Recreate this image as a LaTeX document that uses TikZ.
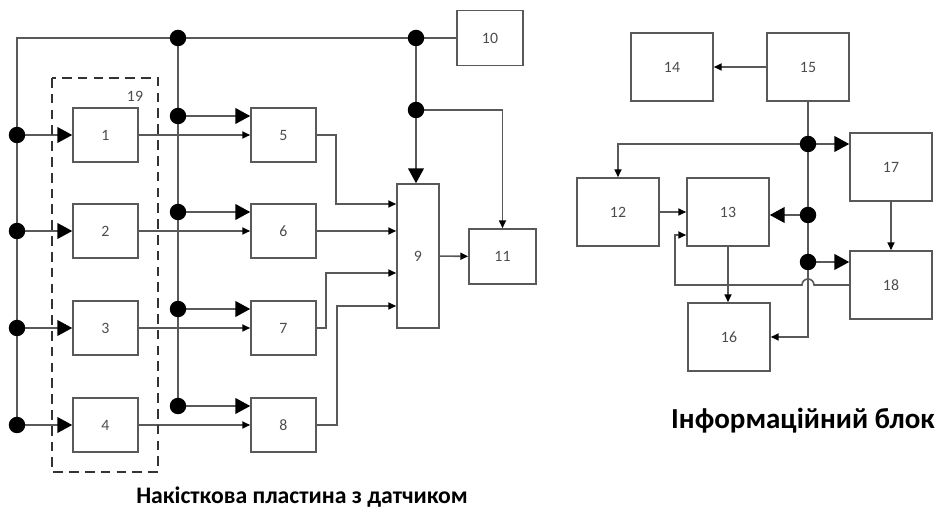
\documentclass[tikz,border=0pt]{standalone}
\usepackage{fontspec}
\setmainfont{Carlito}
\usetikzlibrary{arrows.meta,calc}

\begin{document}
\begin{tikzpicture}[
x=0.02cm, y=-0.02cm,
blk/.style={draw=black!65, line width=0.9pt, inner sep=0pt, font=\fontsize{9}{10}\selectfont, text=black!70},
smallblk/.style={blk, minimum width=1.3cm, minimum height=1.08cm},
bigblk/.style={blk, minimum width=1.64cm, minimum height=1.36cm},
junc/.style={circle, fill=black, inner sep=0pt, minimum size=0.33cm},
wire/.style={draw=black!65, line width=0.9pt},
sarr/.style={wire, -{Triangle[length=4.5pt,width=4pt,color=black]}},
barr/.style={wire, -{Triangle[length=8.5pt,width=9pt,color=black]}},
lbl/.style={font=\bfseries}
]
\useasboundingbox (0,0) rectangle (944,516);

%%% plate with sensors
\coordinate (tl) at (17,38);
\coordinate (t1) at (178,38);
\coordinate (t2) at (416,38);
\coordinate (j9) at (416,110);

\foreach \i/\j/\y in {1/5/135, 2/6/231, 3/7/328, 4/8/425}{
	\node[smallblk] (b\i) at (105.5,\y) {\i};
	\node[smallblk] (b\j) at (283.5,\y) {\j};
	\coordinate (l\i) at (17,\y);
	\coordinate (m\j) at (178,\y-19);
	\draw[barr] (l\i) -- (b\i);
	\draw[barr] (m\j) -- (m\j -| b\j.west);
	\draw[sarr] (b\i) -- (b\j);
}

\node[blk, minimum width=0.84cm, minimum height=2.88cm] (b9) at (418,256) {9};
\node[blk, minimum width=1.32cm, minimum height=1.1cm] (b10) at (490,38) {10};
\node[blk, minimum width=1.34cm, minimum height=1.1cm] (b11) at (502.5,256.5) {11};

\draw[wire] (l4) -- (tl) -- (b10.west);
\draw[wire] (t1) -- (m8);
\draw[wire] (t2) -- (j9);
\draw[barr] (j9) -- (j9 |- b9.north);
\draw[sarr] (j9) -| (b11.north);

\draw[sarr] (b5.east) -- ++(19,0) |- ($(b9.west)+(0,-52)$);
\draw[sarr] (b6) -- (b6 -| b9.west);
\draw[sarr] (b7.east) -- ++(9,0) |- ($(b9.west)+(0,17)$);
\draw[sarr] (b8.east) -- ++(20,0) |- ($(b9.west)+(0,50)$);
\draw[sarr] (b9) -- (b11);

% group 19
\draw[black!80, line width=1pt, dash pattern=on 5.5pt off 3.5pt] (52,78) rectangle (158,472);
\node[font=\fontsize{9}{10}\selectfont, text=black!70] (n19) at (135,96) {19};

%%% information unit
\node[bigblk] (b14) at (672,67) {14};
\node[bigblk] (b15) at (808,67) {15};
\node[bigblk] (b17) at (891,167) {17};
\node[bigblk] (b12) at (618,212) {12};
\node[bigblk] (b13) at (728,212) {13};
\node[bigblk] (b18) at (891,285) {18};
\node[bigblk] (b16) at (729,337) {16};

\coordinate (r1) at (808,144);
\coordinate (r2) at (808,215);
\coordinate (r3) at (808,262);
\coordinate (r4) at (808,337);
\coordinate (fb) at (675,235);

\draw[sarr] (b15) -- (b14);
\draw[sarr] (b15) -- (r4) -- (b16);
\draw[barr] (r1) -- (r1 -| b17.west);
\draw[sarr] (r1) -| (b12.north);
\draw[sarr] (b12) -- (b12 -| b13.west);
\draw[barr] (r2) -- (r2 -| b13.east);
\draw[barr] (r3) -- (r3 -| b18.west);
\draw[sarr] (b17) -- (b18);
\draw[sarr] (b13) -- (b13 |- b16.north);
\draw[sarr] (b18.west) -- ($(r4 |- b18.west)+(6,0)$) arc[start angle=0, end angle=-180, radius=6]
	-- (fb |- b18.west) -- (fb) -- (fb -| b13.west);

% junction dots
\foreach \p in {l1,l2,l3,l4,t1,t2,j9,m5,m6,m7,m8,r1,r2,r3}
	\node[junc] at (\p) {};

\node[lbl, font=\fontsize{13.5}{16}\selectfont\bfseries] (cap1) at (302,497) {Накісткова пластина з датчиком};
\node[lbl, font=\fontsize{16.5}{19}\selectfont\bfseries] (cap2) at (803,421) {Інформаційний блок};

\end{tikzpicture}
\end{document}
